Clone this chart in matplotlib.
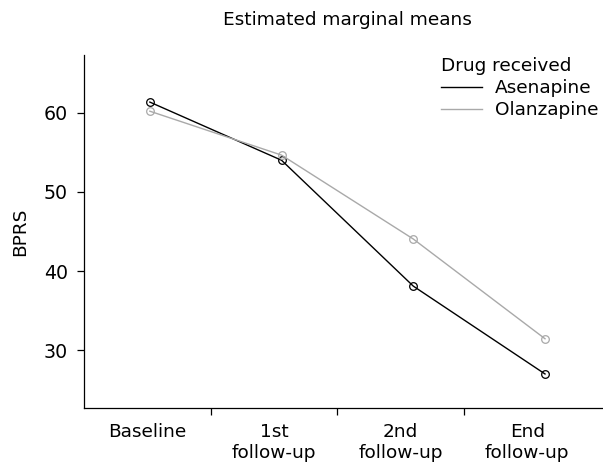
import matplotlib

matplotlib.use("Agg")
import matplotlib.pyplot as plt
import numpy as np

# estimated marginal means of BPRS per visit
visits = ["Baseline", "1st\nfollow-up", "2nd\nfollow-up", "End\nfollow-up"]
asenapine = [61.35, 54.0, 38.1, 27.0]
olanzapine = [60.2, 54.65, 44.05, 31.45]
drugs = ["Asenapine", "Olanzapine"]
y_ticks = [30, 40, 50, 60]

FS = 13.3
plt.rcParams["font.family"] = ["DejaVu Sans"]

fig = plt.figure(figsize=(6.03, 4.65), dpi=100)
ax = fig.add_axes([84 / 603, 1 - 408 / 465, 518 / 603, 353 / 465])

# points sit slightly off the category centres, as in the original output
point_x = 0.52 + 1.04 * np.arange(len(visits))
ax.plot(point_x, asenapine, color="black", lw=1.0, marker="o", ms=5.5,
        mfc="none", mec="black", mew=0.9, label=drugs[0])
ax.plot(point_x, olanzapine, color="#a9a9a9", lw=1.0, marker="o", ms=5.5,
        mfc="none", mec="#a9a9a9", mew=0.9, label=drugs[1])

ax.set_xlim(0, 4.09)
ax.set_ylim(22.7, 67.3)
ax.set_yticks(y_ticks)
ax.tick_params(axis="y", labelsize=FS + 0.4, length=5, width=0.9, pad=6.5)

ax.set_xticks([1, 2, 3])
ax.set_xticklabels([])
ax.set_xticks(np.arange(len(visits)) + 0.5, minor=True)
ax.set_xticklabels(visits, minor=True, fontsize=FS, linespacing=1.2)
ax.tick_params(axis="x", which="major", length=5, width=0.9)
ax.tick_params(axis="x", which="minor", length=0, pad=11)

for side in ("top", "right"):
    ax.spines[side].set_visible(False)
for side in ("left", "bottom"):
    ax.spines[side].set_linewidth(0.9)

ax.set_ylabel("BPRS", fontsize=FS)
ax.yaxis.set_label_coords(-0.106, 0.5)

fig.text(347 / 603, 1 - 20 / 465, "Estimated marginal means",
         ha="center", va="center", fontsize=FS)

leg = ax.legend(title="Drug received", loc="upper left",
                bbox_to_anchor=(441 / 603, 1 - 57 / 465),
                bbox_transform=fig.transFigure, frameon=False,
                fontsize=FS, title_fontsize=FS, alignment="left",
                handlelength=2.2, handletextpad=0.7, labelspacing=0.22,
                borderpad=0, borderaxespad=0)
for line in leg.get_lines():
    line.set_marker("")

fig.savefig("out.png", dpi=100)
